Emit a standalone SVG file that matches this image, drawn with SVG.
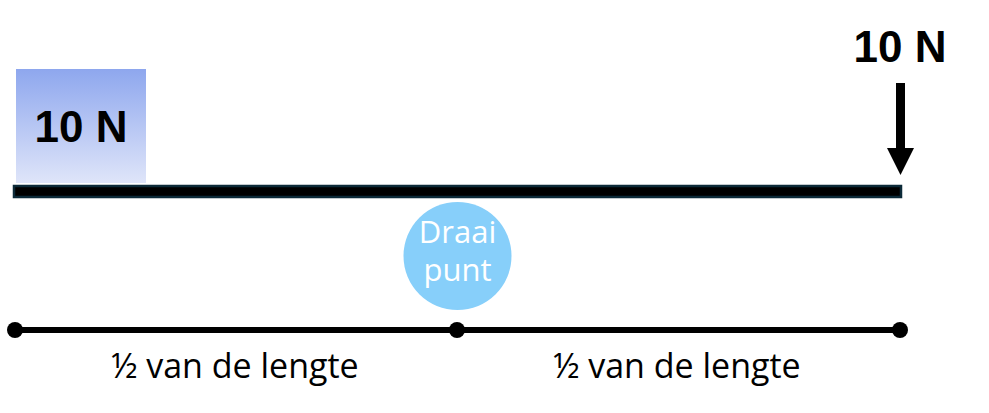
<svg xmlns="http://www.w3.org/2000/svg" width="989" height="413" viewBox="0 0 989 413">
<defs>
<linearGradient id="boxGrad" x1="0" y1="0" x2="0" y2="1">
<stop offset="0" stop-color="#8ea7ee"/>
<stop offset="1" stop-color="#dfe5f9"/>
</linearGradient>
</defs>
<style>
.force{font-family:'Liberation Sans',Arial,Helvetica,sans-serif;font-weight:700;font-size:44px;fill:#000}
.lbl{font-family:'Open Sans','Noto Sans',sans-serif;font-size:34px;fill:#000}
.pivot{font-family:'Open Sans','Noto Sans',sans-serif;font-size:31px;fill:#fff}
.dim{stroke:#000;stroke-width:6}
.dot{fill:#000}
</style>
<rect width="989" height="413" fill="#fff"/>
<g id="weight">
<rect x="16" y="69" width="130" height="114" fill="url(#boxGrad)"/>
<text class="force" x="81" y="142" text-anchor="middle" font-family="Liberation Sans">10 N</text>
</g>
<g id="beam">
<rect x="14" y="186" width="887" height="11" fill="#000" stroke="#0c2a38" stroke-width="2.5"/>
</g>
<g id="force-right">
<text class="force" x="900" y="62" text-anchor="middle" font-family="Liberation Sans">10 N</text>
</g>
<g id="pivot">
<circle cx="457.5" cy="256" r="54" fill="#87cffa"/>
<text class="pivot" x="457.5" y="243" text-anchor="middle">Draai</text>
<text class="pivot" x="457.5" y="281" text-anchor="middle">punt</text>
</g>
<g id="connectors">
<line x1="900.5" y1="83" x2="900.5" y2="150" stroke="#000" stroke-width="9"/>
<polygon points="887,148 914,148 900.5,175" fill="#000"/>
<line class="dim" x1="15" y1="330" x2="900" y2="330"/>
<circle class="dot" cx="15" cy="330" r="8"/>
<circle class="dot" cx="457" cy="330" r="8"/>
<circle class="dot" cx="900" cy="330" r="8"/>
</g>
<g id="labels">
<text class="lbl" x="235" y="378" text-anchor="middle">½ van de lengte</text>
<text class="lbl" x="677" y="378" text-anchor="middle">½ van de lengte</text>
</g>
</svg>
